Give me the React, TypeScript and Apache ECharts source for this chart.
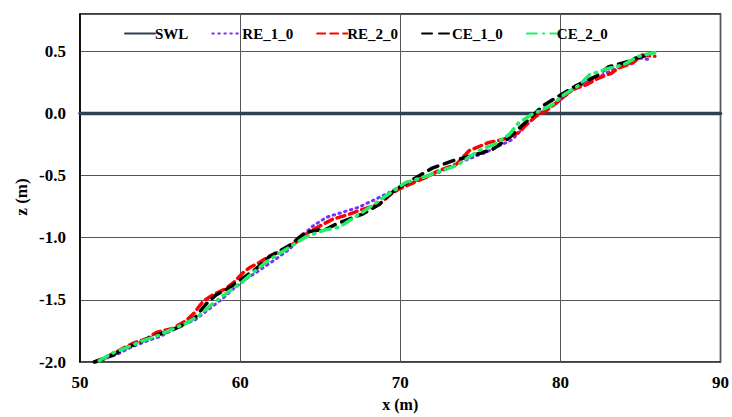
import React, { useEffect, useRef } from "react";
import * as echarts from "echarts";

const xTicks = [50, 60, 70, 80, 90];
const swlX = [50, 90];
const swlZ = [0, 0];

const re10X = [51.0, 52.3, 53.2, 54.2, 55.0, 55.8, 56.6, 57.2, 58.1, 58.9, 59.5, 60.4, 61.0, 62.25, 63.1, 63.7, 64.5, 65.4, 66.4, 67.4, 68.3, 69.1, 69.9, 71.2, 72.4, 73.7, 75.3, 76.2, 77.0, 77.8, 78.7, 79.9, 80.7, 81.6, 82.5, 83.3, 84.3, 85.0, 85.7];
const re10Z = [-2.0, -1.94, -1.88, -1.83, -1.795, -1.74, -1.69, -1.66, -1.57, -1.49, -1.42, -1.33, -1.28, -1.17, -1.09, -1.01, -0.91, -0.835, -0.795, -0.755, -0.70, -0.65, -0.595, -0.53, -0.475, -0.395, -0.315, -0.26, -0.21, -0.10, 0.0, 0.10, 0.18, 0.25, 0.30, 0.355, 0.40, 0.445, 0.43];

const re20X = [50.9, 51.5, 52.4, 53.3, 54.2, 54.8, 55.8, 56.6, 57.1, 57.7, 58.3, 59.1, 59.6, 60.2, 60.6, 61.2, 61.8, 62.7, 63.5, 64.3, 65.2, 65.8, 66.6, 67.7, 68.7, 69.3, 69.9, 70.6, 71.6, 72.4, 73.5, 74.3, 75.5, 76.4, 77.4, 77.8, 78.5, 79.1, 79.9, 80.7, 81.6, 82.4, 83.2, 83.6, 84.5, 85.1, 85.9];
const re20Z = [-2.0, -1.97, -1.91, -1.85, -1.81, -1.76, -1.73, -1.67, -1.61, -1.51, -1.46, -1.41, -1.36, -1.28, -1.24, -1.20, -1.15, -1.10, -1.035, -0.955, -0.89, -0.85, -0.82, -0.77, -0.73, -0.66, -0.61, -0.57, -0.515, -0.46, -0.41, -0.30, -0.235, -0.21, -0.155, -0.10, -0.02, 0.02, 0.10, 0.19, 0.23, 0.285, 0.325, 0.365, 0.405, 0.47, 0.46];

const ce10X = [50.9, 51.8, 52.8, 53.6, 54.6, 55.6, 56.5, 57.2, 57.9, 58.5, 59.1, 59.8, 61.0, 61.8, 63.1, 64.1, 65.4, 66.0, 66.6, 67.65, 68.7, 69.5, 70.1, 71.0, 72.0, 73.3, 74.5, 75.75, 76.8, 77.8, 78.9, 79.9, 81.0, 82.25, 83.0, 84.3, 84.7, 85.5];
const ce10Z = [-2.0, -1.96, -1.89, -1.85, -1.79, -1.75, -1.70, -1.64, -1.53, -1.46, -1.42, -1.36, -1.25, -1.155, -1.06, -0.955, -0.93, -0.89, -0.86, -0.81, -0.73, -0.635, -0.58, -0.515, -0.44, -0.38, -0.34, -0.29, -0.195, -0.075, 0.06, 0.14, 0.225, 0.30, 0.375, 0.42, 0.445, 0.47];

const ce20X = [51.2, 52.0, 53.0, 53.9, 54.8, 55.7, 56.6, 57.4, 58.2, 59.1, 60.0, 60.8, 61.8, 62.9, 64.1, 65.2, 66.2, 66.85, 67.65, 68.7, 69.7, 70.35, 71.4, 72.8, 73.5, 74.9, 76.0, 76.8, 77.4, 78.2, 79.5, 80.1, 81.2, 81.8, 82.8, 83.9, 84.9, 85.9];
const ce20Z = [-1.99, -1.93, -1.88, -1.83, -1.79, -1.74, -1.69, -1.63, -1.54, -1.45, -1.37, -1.28, -1.18, -1.09, -0.995, -0.94, -0.915, -0.86, -0.795, -0.70, -0.61, -0.555, -0.515, -0.45, -0.42, -0.30, -0.24, -0.17, -0.075, -0.01, 0.07, 0.14, 0.23, 0.31, 0.355, 0.39, 0.46, 0.49];

const zip = (xs: number[], zs: number[]) => xs.map((x, i) => [x, zs[i]]);

const FONT = "'Liberation Serif', 'Times New Roman', serif";

export default function App() {
  const ref = useRef<HTMLDivElement>(null);
  useEffect(() => {
    if (!ref.current) return;
    const chart = echarts.init(ref.current, undefined, { renderer: "svg" });
    const mk = (name: string, xs: number[], zs: number[], color: string, type: any, width: number) => ({
      name,
      type: "line",
      data: zip(xs, zs),
      showSymbol: false,
      symbol: "none",
      smooth: false,
      lineStyle: { color, type, width, cap: "round" },
      itemStyle: { color },
    });
    chart.setOption({
      animation: false,
      backgroundColor: "#fff",
      textStyle: { fontFamily: FONT },
      grid: { left: 80, right: 10, top: 14, bottom: 54, show: true, borderColor: "#000", borderWidth: 1.5 },
      legend: {
        left: 119,
        top: 21,
        itemWidth: 30,
        itemHeight: 14,
        itemGap: 23,
        itemStyle: { color: "transparent", borderWidth: 0, opacity: 0 },
        textStyle: { fontFamily: FONT, fontWeight: "bold", fontSize: 15, color: "#000", padding: [0, 0, 0, -5] },
        data: ["SWL", "RE_1_0", "RE_2_0", "CE_1_0", "CE_2_0"],
      },
      graphic: [
        {
          type: "text",
          x: 21,
          y: 197,
          rotation: Math.PI / 2,
          style: {
            text: "z (m)",
            fontFamily: FONT,
            fontWeight: "bold",
            fontSize: 17,
            fill: "#000",
            textAlign: "center",
            textVerticalAlign: "middle",
          },
        },
      ],
      xAxis: {
        type: "value",
        min: xTicks[0],
        max: xTicks[xTicks.length - 1],
        interval: 10,
        name: "x (m)",
        nameLocation: "middle",
        nameGap: 34,
        nameTextStyle: { fontFamily: FONT, fontWeight: "bold", fontSize: 16, color: "#000" },
        axisLine: { show: true, lineStyle: { color: "#000", width: 1.5 } },
        axisTick: { show: false },
        axisLabel: { fontFamily: FONT, fontWeight: "bold", fontSize: 17, color: "#000", margin: 12 },
        splitLine: { show: true, lineStyle: { color: "#555", width: 1 } },
      },
      yAxis: {
        type: "value",
        min: -2,
        max: 0.8,
        interval: 0.5,
        axisLine: { show: true, lineStyle: { color: "#000", width: 1.5 } },
        axisTick: { show: false },
        axisLabel: {
          fontFamily: FONT, fontWeight: "bold", fontSize: 17, color: "#000", margin: 14,
          showMaxLabel: false,
          formatter: (v: number) => v.toFixed(1),
        },
        splitLine: { show: true, lineStyle: { color: "#555", width: 1 } },
      },
      series: [
        mk("SWL", swlX, swlZ, "#2E4053", "solid", 3.5),
        mk("RE_1_0", re10X, re10Z, "#7B2FFF", [1.5, 4.5], 3),
        mk("RE_2_0", re20X, re20Z, "#FF0000", [8, 5], 3.5),
        mk("CE_1_0", ce10X, ce10Z, "#000000", [10, 7], 3.5),
        mk("CE_2_0", ce20X, ce20Z, "#22EE66", [10, 6, 1.5, 6], 3.5),
      ],
    });
    return () => chart.dispose();
  }, []);
  return <div ref={ref} style={{ position: "fixed", left: 0, top: 0, width: 732, height: 417 }} />;
}
